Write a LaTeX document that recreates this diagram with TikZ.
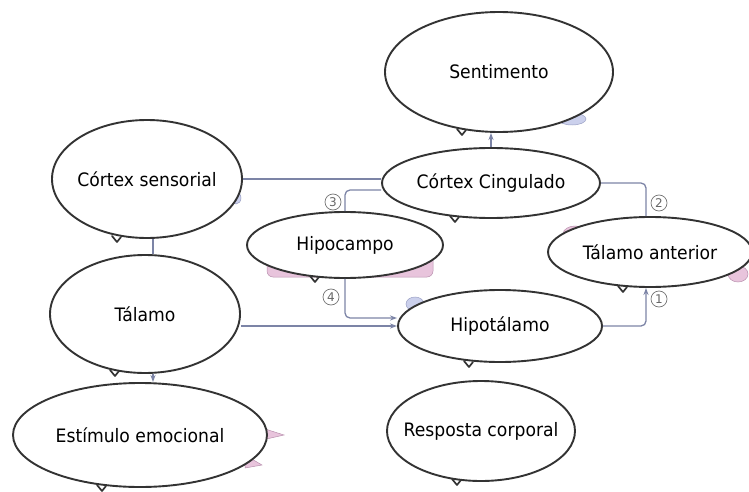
\documentclass[tikz,border=0pt]{standalone}
\usepackage{fontspec}
\setmainfont{DejaVu Sans}[FakeStretch=0.93]
\newfontfamily\numfont{DejaVu Sans}
\usetikzlibrary{shapes.geometric,arrows.meta}
\definecolor{ln}{HTML}{7C84A6}
\definecolor{pk}{HTML}{E8C4DC}
\definecolor{pkd}{HTML}{B890AE}
\definecolor{bl}{HTML}{CBD0EC}
\definecolor{bld}{HTML}{9AA0C4}
\tikzset{
 bub/.style={ellipse, draw=black!80, line width=1.9pt, fill=white, inner xsep=-30pt, inner ysep=0pt, font=\fontsize{18.5}{21}\selectfont},
 con/.style={draw=ln, line width=1.3pt, rounded corners=5pt},
 arr/.style={con, -{Stealth[length=7pt,width=5pt]}},
 num/.style={circle, draw=black!55, line width=0.7pt, minimum size=16pt, inner sep=0pt, text=black!60, font=\numfont\fontsize{12}{13}\selectfont},
 tail/.style={draw=black!80, line width=1.7pt, line join=round, line cap=round},
 pshade/.style={fill=pk, draw=pkd, line width=0.5pt},
 bshade/.style={fill=bl, draw=bld, line width=0.5pt}
}
\newcommand\tl[2]{\draw[tail] ({#1-8},{#2}) -- ({#1-3},{#2+6}) -- ({#1+1},{#2+1});}
\begin{document}
\begin{tikzpicture}[x=1pt,y=-1pt]
\useasboundingbox (0,0) rectangle (749,492);
% shadows
\fill[bshade] (572,119) ellipse (14pt and 6pt);
\fill[bshade] (236,198) ellipse (5pt and 6pt);
\fill[bshade] (568,201) ellipse (8pt and 4pt);
\draw[pshade, rounded corners=6pt] (267,248) rectangle (433,277);
\fill[pshade] (575,234) ellipse (12pt and 8pt);
\fill[pshade] (738,274) ellipse (10pt and 8pt);
\fill[bshade] (415,304) ellipse (9pt and 7pt);
\draw[pshade] (262,428) -- (284,435) -- (262,440) -- cycle;
\draw[pshade] (245,455) -- (262,465) -- (245,468) -- cycle;
% nodes
\node[bub, minimum width=228pt, minimum height=120pt] (sent) at (499,72) {Sentimento};
\node[bub, minimum width=190pt, minimum height=118pt] (cs) at (147,179) {Córtex sensorial};
\node[bub, minimum width=218pt, minimum height=70pt] (cing) at (491,183) {Córtex Cingulado};
\node[bub, minimum width=196pt, minimum height=66pt] (hipo) at (345,245) {Hipocampo};
\node[bub, minimum width=204pt, minimum height=70pt] (tant) at (650,252) {Tálamo anterior};
\node[bub, minimum width=190pt, minimum height=118pt] (tal) at (145,314) {Tálamo};
\node[bub, minimum width=204pt, minimum height=72pt] (hipot) at (500,326) {Hipotálamo};
\node[bub, minimum width=254pt, minimum height=104pt] (est) at (140,435) {Estímulo emocional};
\node[bub, minimum width=188pt, minimum height=100pt] (resp) at (481,431) {Resposta corporal};
% tails
\tl{465}{129}
\tl{120}{236}
\tl{458}{216}
\tl{318}{276}
\tl{626}{286}
\tl{118}{370}
\tl{472}{361}
\tl{105}{485}
\tl{460}{479}
% connectors
\draw[con] (cs.east) -- (cing.west |- cs.east);
\draw[arr] (cing.north) -- (cing.north |- sent.south);
\draw[con] ([xshift=6pt]cs.south) -- ([xshift=6pt]cs.south |- tal.north);
\draw[arr] ([xshift=8pt]tal.south) -- ([xshift=8pt]tal.south |- est.north);
\draw[arr] (tal.east |- hipot.west) -- (hipot.west);
\draw[arr] (hipo.south) |- ([yshift=8pt]hipot.west);
\draw[con] (hipo.north) |- ([yshift=-7pt]cing.west);
\draw[con] (cing.east) -| ([xshift=-4pt]tant.north);
\draw[arr] (hipot.east) -| ([xshift=-4pt]tant.south);
% numbers
\node[num] (n1) at (659,299) {1};
\node[num] (n2) at (659,203) {2};
\node[num] (n3) at (333,202) {3};
\node[num] (n4) at (331,297) {4};
\end{tikzpicture}
\end{document}
